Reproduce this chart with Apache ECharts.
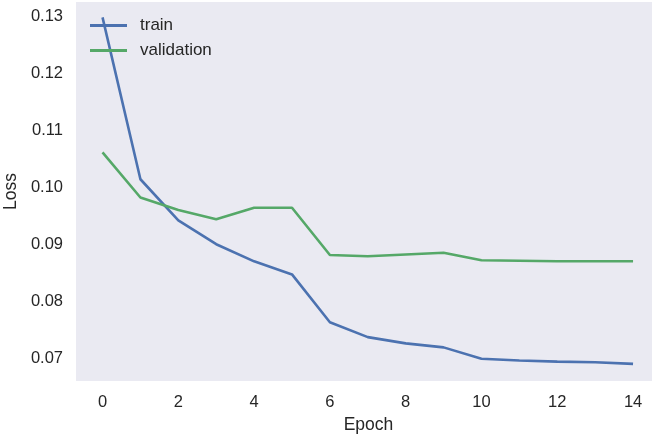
<!DOCTYPE html>
<html>
<head>
<meta charset="utf-8">
<script src="https://cdn.jsdelivr.net/npm/echarts@6/dist/echarts.min.js"></script>
<style>
html,body{margin:0;padding:0;background:#fff;}
#chart{width:652px;height:439px;}
</style>
</head>
<body>
<div id="chart"></div>
<script>
var epochs = [0,1,2,3,4,5,6,7,8,9,10,11,12,13,14];
var trainLoss = [0.1298,0.1014,0.0942,0.0900,0.0870,0.0847,0.0763,0.0737,0.0726,0.0719,0.0699,0.0696,0.0694,0.0693,0.0690];
var valLoss = [0.1061,0.0982,0.0960,0.0944,0.0964,0.0964,0.0881,0.0879,0.0882,0.0885,0.0872,0.0871,0.0870,0.0870,0.0870];
var xTickLabels = [0,2,4,6,8,10,12,14];
var yTickLabels = [0.07,0.08,0.09,0.10,0.11,0.12,0.13];

var chart = echarts.init(document.getElementById('chart'));
var font = 'Liberation Sans, Arial, sans-serif';
function pair(arr){ return epochs.map(function(e,i){ return [e, arr[i]]; }); }
chart.setOption({
  animation:false,
  backgroundColor:'#ffffff',
  grid:{left:76, right:0, top:2, bottom:58, show:true, backgroundColor:'#EAEAF2', borderWidth:0,
        containLabel:false, outerBoundsMode:'none'},
  legend:{
    orient:'vertical', left:90, top:17, padding:0, itemWidth:37, itemHeight:3, itemGap:8,
    icon:'rect',
    textStyle:{fontFamily:font, fontSize:17, color:'#262626', padding:[0,0,0,8]},
    data:[{name:'train', icon:'rect'},{name:'validation', icon:'rect'}]
  },
  xAxis:{
    type:'value', min:-0.7, max:14.5, interval:0.1,
    name:'Epoch', nameLocation:'middle', nameGap:34,
    nameTextStyle:{fontFamily:font, fontSize:17.5, color:'#262626', padding:[0,0,0,9]},
    axisLine:{show:false}, axisTick:{show:false}, splitLine:{show:false},
    axisLabel:{
      fontFamily:font, fontSize:16.5, color:'#262626', margin:13,
      formatter:function(v){
        var r = Math.round(v);
        if (Math.abs(v-r) < 1e-6 && xTickLabels.indexOf(r) >= 0) return String(r);
        return '';
      }
    }
  },
  yAxis:{
    type:'value', min:0.066, max:0.1325, interval:0.002,
    name:'Loss', nameLocation:'middle', nameGap:51,
    nameTextStyle:{fontFamily:font, fontSize:17.5, color:'#262626'},
    axisLine:{show:false}, axisTick:{show:false}, splitLine:{show:false},
    axisLabel:{
      fontFamily:font, fontSize:16.5, color:'#262626', margin:13,
      formatter:function(v){
        for (var i=0;i<yTickLabels.length;i++){
          if (Math.abs(v-yTickLabels[i]) < 1e-7) return yTickLabels[i].toFixed(2);
        }
        return '';
      }
    }
  },
  series:[
    {name:'train', type:'line', data:pair(trainLoss), symbol:'none', showSymbol:false, lineStyle:{color:'#4C72B0', width:2.6}, itemStyle:{color:'#4C72B0'}},
    {name:'validation', type:'line', data:pair(valLoss), symbol:'none', showSymbol:false, lineStyle:{color:'#55A868', width:2.6}, itemStyle:{color:'#55A868'}}
  ]
});
</script>
</body>
</html>
